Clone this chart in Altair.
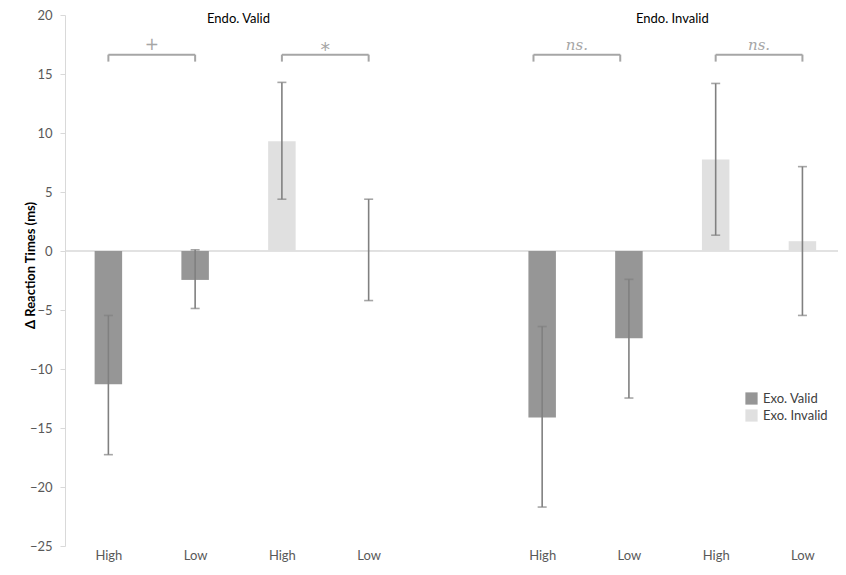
import altair as alt
import pandas as pd

# ---- data ----
slots = [0, 1, 2, 3, 5, 6, 7, 8]
tick_labels = ["High", "Low", "High", "Low", "High", "Low", "High", "Low"]
exo = ["Exo. Valid", "Exo. Valid", "Exo. Invalid", "Exo. Invalid",
       "Exo. Valid", "Exo. Valid", "Exo. Invalid", "Exo. Invalid"]
values = [-11.3, -2.45, 9.3, 0.07, -14.1, -7.4, 7.75, 0.83]
err_lo = [-17.26, -4.87, 4.39, -4.2, -21.7, -12.46, 1.34, -5.46]
err_hi = [-5.46, 0.1, 14.29, 4.39, -6.4, -2.4, 14.2, 7.15]

group_names = ["Endo. Valid", "Endo. Invalid"]
group_pos = [1.5, 6.5]

br_start = [0, 2, 4.9, 7]
br_end = [1, 3, 5.9, 8]
br_label = ["+", "*", "ns.", "ns."]
br_top = 16.64
br_foot = 16.05
br_text_y = 17.5
title_y = 19.66

FONT = "Lato"

df = pd.DataFrame({"slot": slots, "label": tick_labels, "exo": exo,
                   "value": values, "lo": err_lo, "hi": err_hi})
groups = pd.DataFrame({"name": group_names, "pos": group_pos, "y": [title_y] * 2})
br = pd.DataFrame({"x1": br_start, "x2": br_end, "label": br_label,
                   "top": [br_top] * 4, "foot": [br_foot] * 4, "ty": [br_text_y] * 4})
br_feet = pd.DataFrame({"x": br_start + br_end, "top": [br_top] * 8, "foot": [br_foot] * 8})

lab_arr = [""] * 9
for s, l in zip(slots, tick_labels):
    lab_arr[s] = l
label_expr = "[" + ",".join("'%s'" % l for l in lab_arr) + "][datum.value]"

xscale = alt.Scale(domain=[-0.5, 8.41], nice=False, zero=False, padding=0)
yscale = alt.Scale(domain=[-25, 20], nice=False, zero=False, padding=0)

xaxis = alt.Axis(values=slots, labelExpr=label_expr, domain=False, ticks=False,
                 grid=False, labelPadding=3, labelColor="#595959",
                 labelFontSize=13, labelFont=FONT, title=None)
yaxis = alt.Axis(values=list(range(-25, 21, 5)), grid=False, domainColor="#d9d9d9",
                 tickColor="#d9d9d9", tickSize=5, labelColor="#595959",
                 labelFontSize=13, labelFont=FONT, labelPadding=8,
                 title="Δ Reaction Times (ms)", titleFont=FONT, titleFontSize=13,
                 titleFontWeight="bold", titleColor="#000000",
                 titleX=-35, titleY=250, titleAngle=270, titleBaseline="middle",
                 titleAlign="center")


def X(field):
    return alt.X(field, scale=xscale, axis=xaxis)


def Y(field):
    return alt.Y(field, scale=yscale, axis=yaxis)


base = alt.Chart(df)

zero = alt.Chart(pd.DataFrame({"z": [0]})).mark_rule(color="#d9d9d9", strokeWidth=1.5).encode(
    y=Y("z:Q"))

bars = base.mark_bar(size=27.5).encode(
    x=X("slot:Q"),
    y=Y("value:Q"),
    color=alt.Color("exo:N",
                    scale=alt.Scale(domain=["Exo. Valid", "Exo. Invalid"],
                                    range=["#969696", "#e0e0e0"]),
                    legend=alt.Legend(title=None, orient="none", legendX=680, legendY=377,
                                      symbolType="square", symbolSize=150,
                                      symbolStrokeWidth=0, symbolOpacity=1,
                                      labelFont=FONT, labelFontSize=13,
                                      labelColor="#404040", rowPadding=3,
                                      labelOffset=5)),
)

err = base.mark_rule(color="#808080", strokeWidth=1.6).encode(
    x=X("slot:Q"), y=Y("lo:Q"), y2="hi:Q")
cap_lo = base.mark_tick(orient="horizontal", size=9, thickness=1.6, color="#808080").encode(
    x=X("slot:Q"), y=Y("lo:Q"))
cap_hi = base.mark_tick(orient="horizontal", size=9, thickness=1.6, color="#808080").encode(
    x=X("slot:Q"), y=Y("hi:Q"))

bcol = "#a6a6a6"
br_h = alt.Chart(br).mark_rule(color=bcol, strokeWidth=2).encode(
    x=X("x1:Q"), x2="x2:Q", y=Y("top:Q"))
br_v = alt.Chart(br_feet).mark_rule(color=bcol, strokeWidth=2).encode(
    x=X("x:Q"), y=Y("top:Q"), y2="foot:Q")

br_mid = "(datum.x1 + datum.x2) / 2"
br_plus = alt.Chart(br[br["label"] == "+"]).transform_calculate(mid=br_mid).mark_text(
    color=bcol, font="DejaVu Sans", fontSize=17, baseline="middle").encode(
    x=X("mid:Q"), y=Y("ty:Q"), text="label:N")
br_star = alt.Chart(br[br["label"] == "*"]).transform_calculate(mid=br_mid).mark_text(
    color=bcol, font="DejaVu Sans", fontSize=19, baseline="middle", dy=5).encode(
    x=X("mid:Q"), y=Y("ty:Q"), text="label:N")
br_ns = alt.Chart(br[br["label"] == "ns."]).transform_calculate(mid=br_mid).mark_text(
    color=bcol, font="DejaVu Serif", fontStyle="italic", fontSize=15,
    baseline="middle").encode(
    x=X("mid:Q"), y=Y("ty:Q"), text="label:N")

gtitle = alt.Chart(groups).mark_text(color="#000000", font=FONT, fontSize=13,
                                     baseline="middle").encode(
    x=X("pos:Q"), y=Y("y:Q"), text="name:N")

chart = alt.layer(zero, bars, err, cap_lo, cap_hi, br_h, br_v, br_plus, br_star, br_ns,
                  gtitle).properties(
    width=773, height=531,
    autosize=alt.AutoSizeParams(type="none"),
    padding={"left": 57, "top": 7, "right": 0, "bottom": 16},
).configure(background="white").configure_view(stroke=None)

chart.save("out.html", embed_options={"renderer": "svg", "actions": False})
